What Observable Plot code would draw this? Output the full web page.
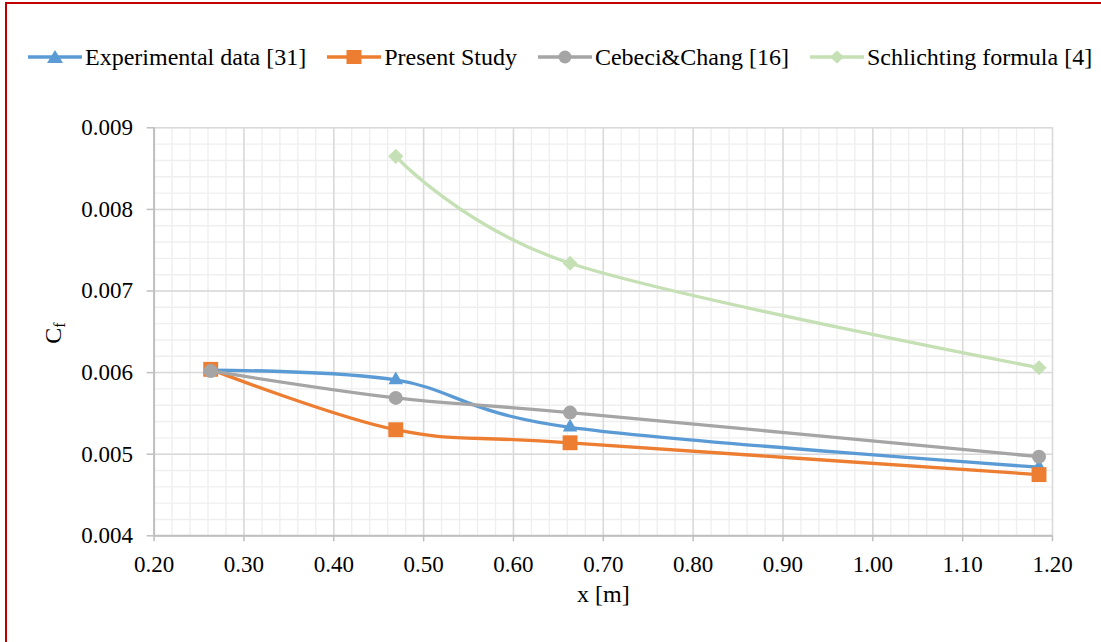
<!DOCTYPE html>
<html>
<head>
<meta charset="utf-8">
<script src="https://cdn.jsdelivr.net/npm/d3@7"></script>
<script src="https://cdn.jsdelivr.net/npm/@observablehq/plot@0.6"></script>
<style>
  html, body { margin: 0; padding: 0; background: #fff; }
  #frame { position: relative; width: 1101px; height: 642px; overflow: hidden; background: #fff; font-family: "Liberation Serif", "Times New Roman", serif; }
  #border { position: absolute; left: 5px; top: 2px; width: 1200px; height: 700px; border-left: 2px solid #c00000; border-top: 2px solid #c00000; }
  #legend { position: absolute; left: 28px; top: 42px; height: 30px; display: flex; align-items: center; font-size: 24px; color: #000; white-space: nowrap; }
  .item { display: flex; align-items: center; margin-right: 21px; }
  .item svg { margin-right: 3px; }
  #chart { position: absolute; left: 0; top: 100px; }
</style>
</head>
<body>
<div id="frame">
  <div id="border"></div>
  <div id="legend"></div>
  <div id="chart"></div>
</div>
<script>
// ---- data ----
const xPos = [0.263, 0.469, 0.663, 1.185];
const experimental = [0.00603, 0.00591, 0.00533, 0.00484];
const present = [0.00604, 0.00530, 0.00514, 0.00475];
const cebeci = [0.00602, 0.00569, 0.00551, 0.00497];
const schlichtingX = [0.469, 0.663, 1.185];
const schlichting = [0.00865, 0.00734, 0.00606];

const seriesNames = ["Experimental data [31]", "Present Study", "Cebeci&Chang [16]", "Schlichting formula [4]"];
const seriesColors = ["#5b9bd5", "#ed7d31", "#a5a5a5", "#c5e0b4"];
const seriesSymbols = ["triangle", "square", "circle", "diamond2"];
const seriesR = [5.4, 8.4, 7, 6.8];

const xTicks = [0.2, 0.3, 0.4, 0.5, 0.6, 0.7, 0.8, 0.9, 1.0, 1.1, 1.2];
const yTicks = [0.004, 0.005, 0.006, 0.007, 0.008, 0.009];
const xMinor = d3.range(0, 51).map(i => 0.2 + i * 0.02);
const yMinor = d3.range(0, 26).map(i => 0.004 + i * 0.0002);

const seriesX = [xPos, xPos, xPos, schlichtingX];
const seriesY = [experimental, present, cebeci, schlichting];
const data = seriesNames.map((name, s) =>
  seriesY[s].map((v, i) => ({ series: name, x: seriesX[s][i], y: v })));

// ---- legend ----
const legend = document.getElementById("legend");
seriesNames.forEach((name, s) => {
  const item = document.createElement("div");
  item.className = "item";
  const c = seriesColors[s];
  let marker = "";
  if (s === 0) marker = `<polygon points="27,2 35,15 19,15" fill="${c}"/>`;
  else if (s === 1) marker = `<rect x="19.5" y="2" width="15" height="14" fill="${c}"/>`;
  else if (s === 2) marker = `<circle cx="27" cy="9" r="6.5" fill="${c}"/>`;
  else marker = `<polygon points="27,2.5 34,9 27,15.5 20,9" fill="${c}"/>`;
  item.innerHTML = `<svg width="54" height="18"><line x1="0" y1="9" x2="54" y2="9" stroke="${c}" stroke-width="3.3"/>${marker}</svg><span>${name}</span>`;
  legend.appendChild(item);
});

// ---- chart ----
const marks = [
  Plot.ruleX(xMinor, { stroke: "#efefef", strokeWidth: 1.4 }),
  Plot.ruleY(yMinor, { stroke: "#efefef", strokeWidth: 1.4 }),
  Plot.ruleX(xTicks, { stroke: "#d9d9d9", strokeWidth: 1.5 }),
  Plot.ruleY(yTicks, { stroke: "#d9d9d9", strokeWidth: 1.5 }),
  Plot.ruleX([0.2], { stroke: "#bfbfbf", strokeWidth: 2 }),
  Plot.ruleY([0.004], { stroke: "#bfbfbf", strokeWidth: 2 }),
  Plot.axisX({ ticks: xTicks, tickFormat: d3.format(".2f"), tickSize: 6, tickPadding: 14, stroke: "#bfbfbf", strokeWidth: 1.5, fill: "#000", label: null }),
  Plot.axisY({ ticks: yTicks, tickFormat: d3.format(".3f"), tickSize: 7, tickPadding: 14, stroke: "#bfbfbf", strokeWidth: 1.5, fill: "#000", label: null })
];
data.forEach((d, s) => {
  marks.push(Plot.line(d, { x: "x", y: "y", stroke: seriesColors[s], strokeWidth: 3.3, curve: "cardinal" }));
  marks.push(Plot.dot(d, { x: "x", y: "y", symbol: () => seriesSymbols[s], r: seriesR[s], fill: seriesColors[s], stroke: "none" }));
});
marks.push(Plot.text(["x [m]"], { frameAnchor: "bottom", dy: 66, fontSize: 24, fill: "#000" }));

const plot = Plot.plot({
  width: 1101,
  height: 542,
  marginLeft: 153.6,
  marginRight: 49,
  marginTop: 27.3,
  marginBottom: 106.7,
  style: { fontFamily: "Liberation Serif, Times New Roman, serif", fontSize: "23px", background: "transparent", color: "#000" },
  x: { domain: [0.2, 1.2], axis: null },
  y: { domain: [0.004, 0.009], axis: null },
  symbol: { type: "identity" },
  marks
});
document.getElementById("chart").appendChild(plot);

// y-axis title with subscript
const svg = d3.select(plot);
const t = svg.append("text")
  .attr("transform", "translate(53," + (333 - 100) + ") rotate(-90)")
  .attr("text-anchor", "middle")
  .attr("dominant-baseline", "central")
  .attr("font-size", 24)
  .attr("fill", "#000");
t.append("tspan").text("C");
t.append("tspan").attr("font-size", 16).attr("dy", 6).text("f");
</script>
</body>
</html>
